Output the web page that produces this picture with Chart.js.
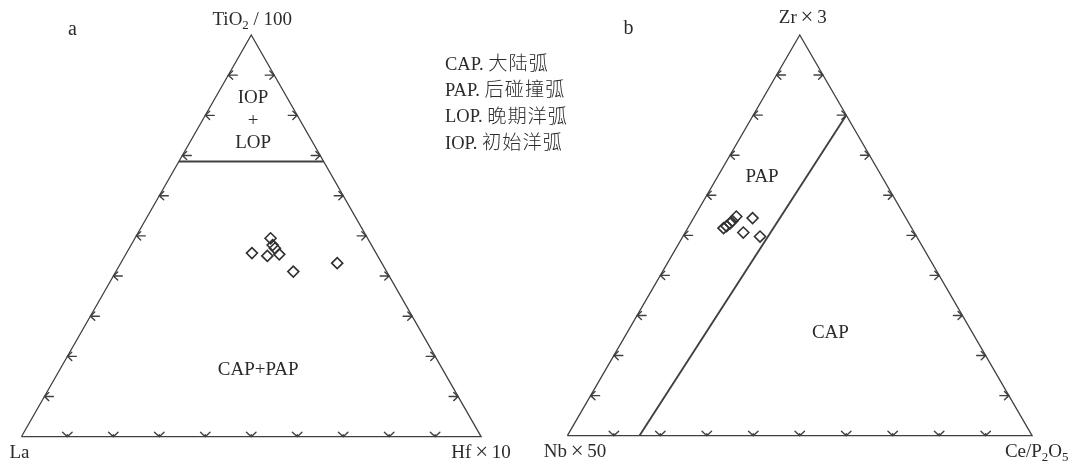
<!DOCTYPE html>
<html>
<head>
<meta charset="utf-8">
<script src="https://cdn.jsdelivr.net/npm/chart.js@4.4.1/dist/chart.umd.min.js"></script>
<style>
  html, body { margin: 0; padding: 0; background: #fff; }
  #wrap { position: relative; width: 1073px; height: 465px; overflow: hidden; background: #fff; }
  #ca { position: absolute; left: 0; top: 0; }
  #cb { position: absolute; left: 536px; top: 0; }
</style>
</head>
<body>
<div id="wrap">
  <canvas id="ca" width="600" height="465" style="width:600px;height:465px"></canvas>
  <canvas id="cb" width="537" height="465" style="width:537px;height:465px"></canvas>
</div>
<script>
// ---- Diagram a: TiO2/100 – La – Hf×10 (relative proportions) ----
const aTiO2 = [0.457, 0.494, 0.477, 0.469, 0.450, 0.454, 0.411, 0.432];
const aHf   = [0.273, 0.295, 0.308, 0.317, 0.310, 0.334, 0.386, 0.471];
const aLa   = [0.270, 0.211, 0.215, 0.214, 0.240, 0.212, 0.203, 0.097];
// field boundary IOP+LOP / CAP+PAP at constant TiO2/100
const aBoundaryTiO2 = 0.685;

// ---- Diagram b: Zr×3 – Nb×50 – Ce/P2O5 ----
const bZr = [0.518, 0.523, 0.530, 0.536, 0.547, 0.543, 0.507, 0.497];
const bCe = [0.077, 0.081, 0.085, 0.087, 0.090, 0.127, 0.125, 0.166];
const bNb = [0.405, 0.396, 0.385, 0.377, 0.363, 0.330, 0.368, 0.337];
// PAP / CAP boundary: [Zr, Ce, Nb] at both ends
const bBoundary = [[0.0, 0.155, 0.845], [0.8, 0.2, 0.0]];

// tick positions along every side
const tickFractions = [0.1, 0.2, 0.3, 0.4, 0.5, 0.6, 0.7, 0.8, 0.9];

// field abbreviations and their names
const legendCodes = ['CAP.', 'PAP.', 'LOP.', 'IOP.'];
const legendNames = ['大陆弧', '后碰撞弧', '晚期洋弧', '初始洋弧'];

const FONT = "'Liberation Serif', 'Noto Sans CJK SC', serif";
const TEXT = '#2b2b2b';
const LINE = '#404040';

// ternary (top, right, left) -> cartesian in a unit triangle
function toXY(top, right, left) {
  const s = top + right + left;
  return { x: (right + top / 2) / s, y: top / s };
}

function arrow(ctx, px, py, dx, dy, shaft, L, a) {
  ctx.beginPath();
  if (shaft > 0) {
    ctx.moveTo(px - dx * shaft, py - dy * shaft);
    ctx.lineTo(px, py);
  }
  for (const s of [-1, 1]) {
    const th = a * s, bx = -dx, by = -dy;
    const rx = bx * Math.cos(th) - by * Math.sin(th);
    const ry = bx * Math.sin(th) + by * Math.cos(th);
    ctx.moveTo(px, py);
    ctx.lineTo(px + rx * L, py + ry * L);
  }
  ctx.stroke();
}

const arrowTicks = {
  id: 'arrowTicks',
  afterDatasetsDraw(chart) {
    const { ctx, scales: { x, y } } = chart;
    ctx.save();
    ctx.strokeStyle = LINE;
    ctx.lineWidth = 1.4;
    ctx.lineCap = 'round';
    ctx.lineJoin = 'round';
    for (const t of tickFractions) {
      arrow(ctx, x.getPixelForValue(t / 2), y.getPixelForValue(t), -1, 0, 9, 6, 0.75);
      arrow(ctx, x.getPixelForValue(1 - t / 2), y.getPixelForValue(t), 1, 0, 9, 6, 0.75);
      arrow(ctx, x.getPixelForValue(t), y.getPixelForValue(0), 0, 1, 2, 6.5, 0.82);
    }
    ctx.restore();
  }
};

// text made of runs; sub:true sets a subscript, k scales the run size, ls is letter spacing
function drawRuns(ctx, runs, cx, cy, size, align) {
  const fontOf = r => (r.w || 400) + ' ' + ((r.sub ? 0.68 : 1) * (r.k || 1) * size) + 'px ' + FONT;
  const widths = runs.map(r => {
    ctx.font = fontOf(r);
    ctx.letterSpacing = (r.ls || 0) + 'px';
    return ctx.measureText(r.t).width;
  });
  const total = widths.reduce((a, b) => a + b, 0);
  let xx = align === 'left' ? cx : cx - total / 2;
  runs.forEach((r, i) => {
    ctx.font = fontOf(r);
    ctx.letterSpacing = (r.ls || 0) + 'px';
    ctx.fillText(r.t, xx, r.sub ? cy + size * 0.28 : cy);
    xx += widths[i];
  });
  ctx.letterSpacing = '0px';
}

const textLayer = {
  id: 'textLayer',
  afterDraw(chart, args, opts) {
    const { ctx, scales: { x, y } } = chart;
    ctx.save();
    ctx.fillStyle = TEXT;
    ctx.textBaseline = 'middle';
    ctx.textAlign = 'left';
    for (const item of opts.items) {
      const px = x.getPixelForValue(item.at[0]) + (item.dx || 0);
      const py = y.getPixelForValue(item.at[1]) + (item.dy || 0);
      drawRuns(ctx, item.runs, px, py, item.size || 19, item.align || 'center');
    }
    ctx.restore();
  }
};

function baseOptions(padding, items) {
  return {
    responsive: false,
    animation: false,
    events: [],
    layout: { padding },
    plugins: { legend: { display: false }, tooltip: { enabled: false }, textLayer: { items } },
    scales: {
      x: { type: 'linear', min: 0, max: 1, display: false },
      y: { type: 'linear', min: 0, max: 1, display: false }
    }
  };
}

function frameDatasets(boundary, samples) {
  return [
    {
      data: [toXY(0, 0, 1), toXY(0, 1, 0), toXY(1, 0, 0), toXY(0, 0, 1)],
      showLine: true, borderColor: LINE, borderWidth: 1.3, pointRadius: 0, clip: false, tension: 0
    },
    {
      data: boundary,
      showLine: true, borderColor: LINE, borderWidth: 1.9, pointRadius: 0, clip: false, tension: 0
    },
    {
      data: samples,
      showLine: false, pointStyle: 'rectRot', pointRadius: 5.5, borderWidth: 1.6,
      borderColor: '#303030', backgroundColor: 'rgba(255,255,255,0)', clip: false
    }
  ];
}

const times = [{ t: '\u2009' }, { t: '×', k: 1.2 }, { t: '\u2009' }];

// ---- chart a ----
const aSamples = aTiO2.map((t, i) => toXY(t, aHf[i], aLa[i]));
const aLine = [toXY(aBoundaryTiO2, 0, 1 - aBoundaryTiO2), toXY(aBoundaryTiO2, 1 - aBoundaryTiO2, 0)];
const aItems = [
  { runs: [{ t: 'a' }], at: [0, 1], dx: 51, dy: -5, size: 20 },
  { runs: [{ t: 'TiO' }, { t: '2', sub: true }, { t: ' / 100' }], at: [0.5, 1], dx: 1, dy: -15 },
  { runs: [{ t: 'La' }], at: [0, 0], dx: -2, dy: 16 },
  { runs: [{ t: 'Hf' }, ...times, { t: '10' }], at: [1, 0], dx: 0, dy: 16 },
  { runs: [{ t: 'IOP' }], at: [0.504, 0.843] },
  { runs: [{ t: '+' }], at: [0.504, 0.786] },
  { runs: [{ t: 'LOP' }], at: [0.504, 0.731] },
  { runs: [{ t: 'CAP+PAP' }], at: [0.515, 0.166] }
];
legendCodes.forEach((c, i) => {
  aItems.push({
    runs: [{ t: c + ' ' }, { t: legendNames[i], k: 1.04, ls: 1, w: 300 }],
    at: [0, 1], dx: 423.6, dy: 30 + i * 26.3, size: 18.5, align: 'left'
  });
});

new Chart(document.getElementById('ca'), {
  type: 'scatter',
  data: { datasets: frameDatasets(aLine, aSamples) },
  options: baseOptions({ left: 21.4, right: 118.9, top: 35, bottom: 28.3 }, aItems),
  plugins: [arrowTicks, textLayer]
});

// ---- chart b ----
const bSamples = bZr.map((z, i) => toXY(z, bCe[i], bNb[i]));
const bLine = bBoundary.map(p => toXY(p[0], p[1], p[2]));
const bItems = [
  { runs: [{ t: 'b' }], at: [0, 1], dx: 61, dy: -6.7, size: 20 },
  { runs: [{ t: 'Zr' }, ...times, { t: '3' }], at: [0.5, 1], dx: 3, dy: -16.5 },
  { runs: [{ t: 'Nb' }, ...times, { t: '50' }], at: [0, 0], dx: 7.6, dy: 16.3 },
  { runs: [{ t: 'Ce/P' }, { t: '2', sub: true }, { t: 'O' }, { t: '5', sub: true }], at: [1, 0], dx: 4.6, dy: 16.3 },
  { runs: [{ t: 'PAP' }], at: [0.419, 0.646] },
  { runs: [{ t: 'CAP' }], at: [0.566, 0.256] }
];

new Chart(document.getElementById('cb'), {
  type: 'scatter',
  data: { datasets: frameDatasets(bLine, bSamples) },
  options: baseOptions({ left: 31.4, right: 40.9, top: 35, bottom: 29.3 }, bItems),
  plugins: [arrowTicks, textLayer]
});
</script>
</body>
</html>
